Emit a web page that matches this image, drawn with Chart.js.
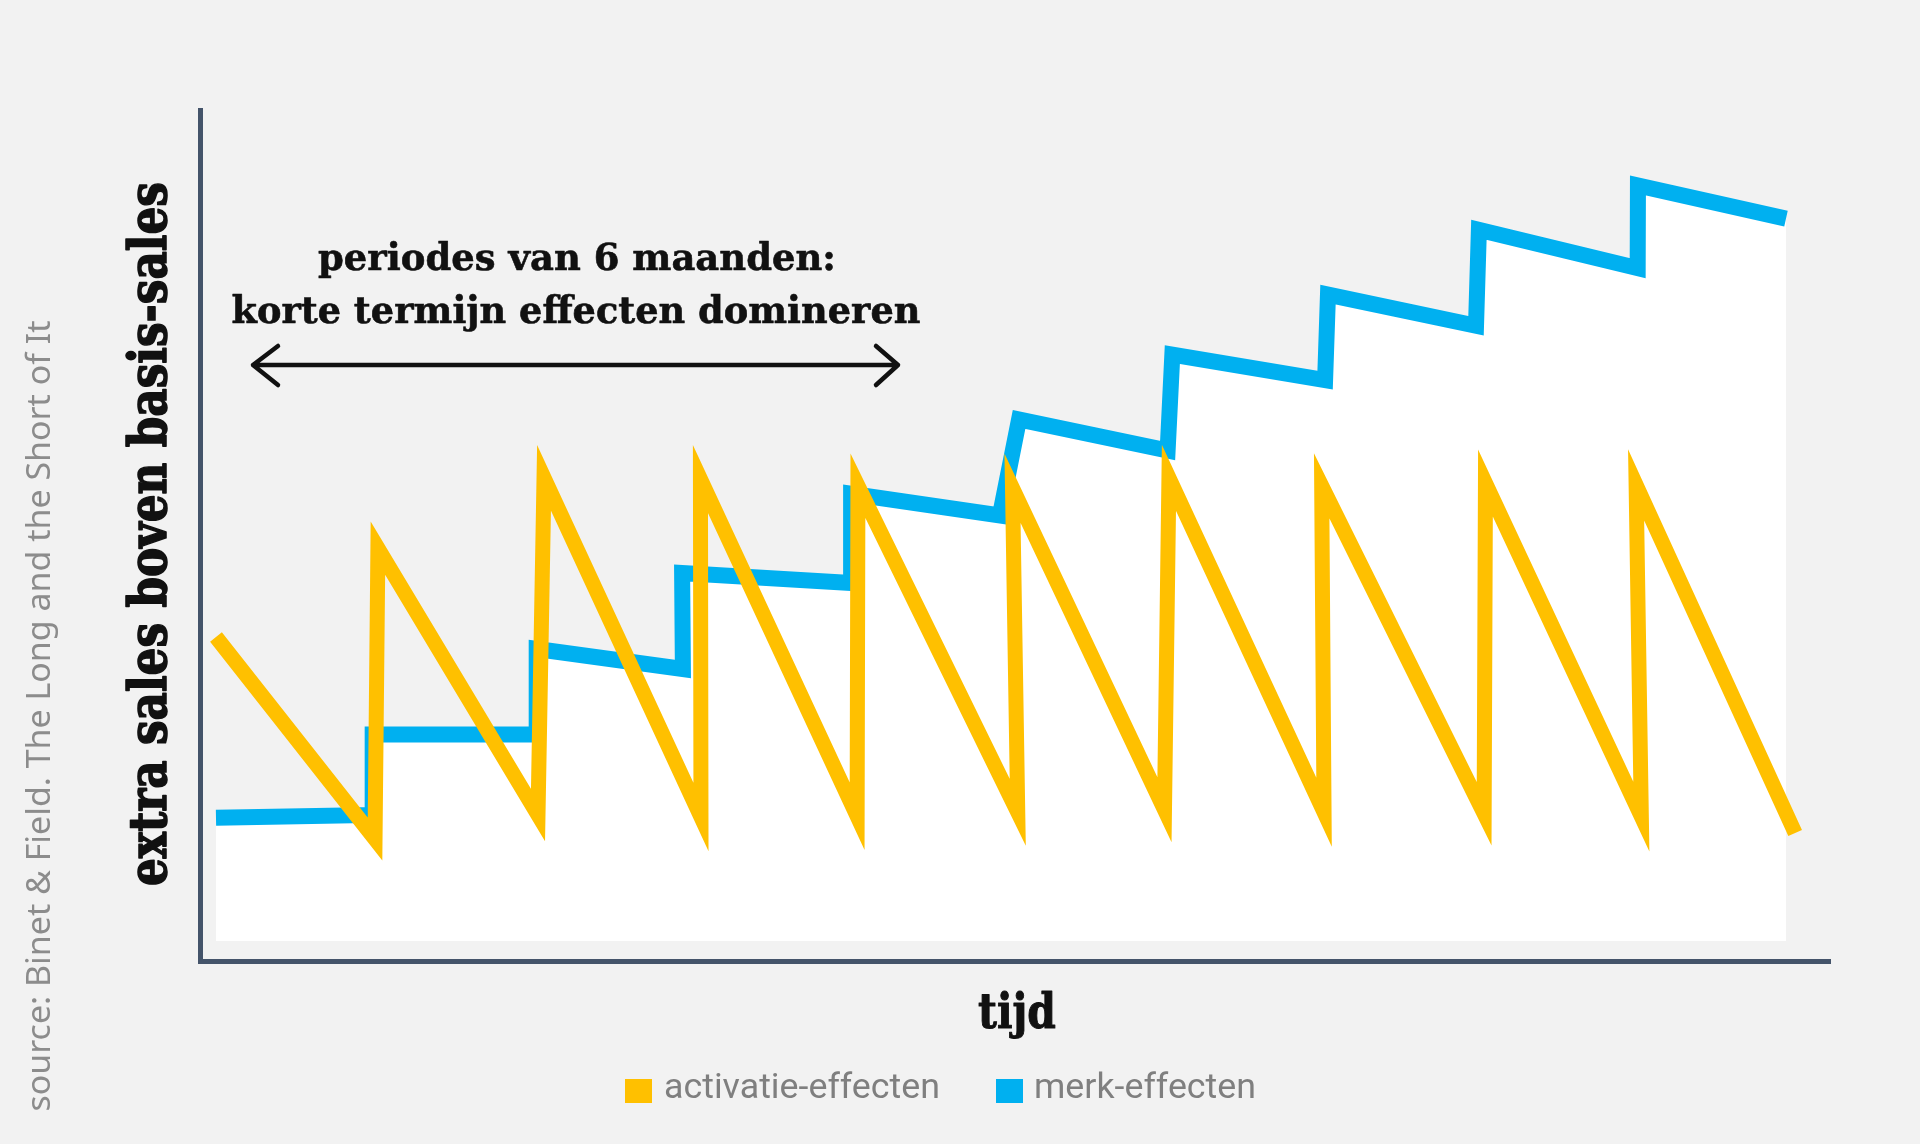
<!DOCTYPE html>
<html>
<head>
<meta charset="utf-8">
<script src="https://cdn.jsdelivr.net/npm/chart.js@4"></script>
<style>
  html, body { margin: 0; padding: 0; background: #f2f2f2; }
  #wrap { width: 1920px; height: 1144px; position: relative; }
</style>
</head>
<body>
<div id="wrap"><canvas id="effectChart"></canvas></div>
<script>
// series labels (legend order)
var seriesLabels = ['activatie-effecten', 'merk-effecten'];

// activatie-effecten: time in months, extra sales (arbitrary units)
var activatieMaand = [0, 6.07, 6.18, 12.29, 12.52, 18.51, 18.49, 24.47, 24.5, 30.6, 30.4, 36.2, 36.37, 42.29, 42.2, 48.4, 48.45, 54.4, 54.2, 60.27];
var activatieWaarde = [38.0, 12.75, 49.1, 15.75, 57.9, 15.5, 57.75, 15.6, 56.9, 16.1, 56.6, 16.4, 57.9, 16.1, 56.9, 15.9, 57.25, 15.55, 57.0, 13.5];

// merk-effecten
var merkMaand = [0, 5.98, 5.98, 12.24, 12.24, 17.82, 17.79, 24.24, 24.24, 29.92, 30.65, 36.32, 36.5, 42.33, 42.44, 48.09, 48.2, 54.26, 54.27, 59.92];
var merkWaarde = [15.4, 15.75, 25.8, 25.8, 36.5, 34.0, 46.0, 44.75, 55.9, 53.2, 65.2, 61.3, 73.3, 70.1, 80.8, 76.9, 88.9, 84.1, 94.45, 90.3];

var geel = '#ffc000';
var blauw = '#00b0f0';

function toPoints(xs, ys) {
    return xs.map(function (x, i) { return { x: x, y: ys[i] }; });
}

// draw text squeezed/stretched to a target width
function fitText(ctx, text, font, width, stroke) {
    ctx.font = font;
    var w = ctx.measureText(text).width;
    ctx.scale(width / w, 1);
    ctx.fillText(text, 0, 0);
    if (stroke) {
        ctx.lineWidth = stroke;
        ctx.strokeStyle = ctx.fillStyle;
        ctx.lineJoin = 'round';
        ctx.strokeText(text, 0, 0);
    }
}

var textPlugin = {
    id: 'textPlugin',
    afterDraw: function (chart) {
        var ctx = chart.ctx;
        ctx.save();
        ctx.textBaseline = 'alphabetic';
        ctx.textAlign = 'center';

        // source, rotated
        ctx.save();
        ctx.fillStyle = '#8c8c8c';
        ctx.translate(50, 716);
        ctx.rotate(-Math.PI / 2);
        fitText(ctx, 'source: Binet & Field. The Long and the Short of It', '33px "Noto Sans"', 791);
        ctx.restore();

        // y axis title
        ctx.save();
        ctx.fillStyle = '#111111';
        ctx.translate(166, 534);
        ctx.rotate(-Math.PI / 2);
        fitText(ctx, 'extra sales boven basis-sales', 'bold 52px "DejaVu Serif"', 704, 1.6);
        ctx.restore();

        // annotation
        ctx.fillStyle = '#111111';
        ctx.save();
        ctx.translate(577, 270);
        fitText(ctx, 'periodes van 6 maanden:', 'bold 38px "DejaVu Serif"', 518, 0.6);
        ctx.restore();
        ctx.save();
        ctx.translate(576, 323);
        fitText(ctx, 'korte termijn effecten domineren', 'bold 38px "DejaVu Serif"', 689, 0.6);
        ctx.restore();

        // double arrow
        ctx.strokeStyle = '#111111';
        ctx.lineWidth = 4.5;
        ctx.lineCap = 'round';
        ctx.lineJoin = 'round';
        ctx.beginPath();
        ctx.moveTo(253, 365);
        ctx.lineTo(898, 365);
        ctx.moveTo(278, 346);
        ctx.lineTo(253, 365);
        ctx.lineTo(278, 385);
        ctx.moveTo(876, 346);
        ctx.lineTo(898, 365);
        ctx.lineTo(876, 385);
        ctx.stroke();

        // x axis title
        ctx.save();
        ctx.translate(1017, 1028);
        fitText(ctx, 'tijd', 'bold 48px "DejaVu Serif"', 78, 1);
        ctx.restore();

        // legend
        var items = [
            { label: seriesLabels[0], color: geel, box: 625, tx: 664, tw: 276 },
            { label: seriesLabels[1], color: blauw, box: 996, tx: 1034, tw: 222 }
        ];
        ctx.textAlign = 'left';
        items.forEach(function (it) {
            ctx.fillStyle = it.color;
            ctx.fillRect(it.box, 1079, 27, 24);
            ctx.save();
            ctx.fillStyle = '#7f7f7f';
            ctx.translate(it.tx, 1098);
            fitText(ctx, it.label, '35px Roboto', it.tw);
            ctx.restore();
        });

        ctx.restore();
    }
};

var ctx = document.getElementById('effectChart');

var effectChart = new Chart(ctx, {
    type: 'line',
    data: {
        datasets: [{
            label: seriesLabels[0],
            data: toPoints(activatieMaand, activatieWaarde),
            borderColor: geel,
            borderWidth: 15,
            borderJoinStyle: 'miter',
            borderCapStyle: 'butt',
            borderDash: [100000, 0],  // forces the normal path, keeps sharp joins
            pointRadius: 0,
            tension: 0,
            fill: false
        }, {
            label: seriesLabels[1],
            data: toPoints(merkMaand, merkWaarde),
            borderColor: blauw,
            backgroundColor: '#ffffff',
            borderWidth: 16,
            borderJoinStyle: 'miter',
            borderCapStyle: 'butt',
            borderDash: [100000, 0],
            pointRadius: 0,
            tension: 0,
            fill: 'origin'
        }]
    },
    options: {
        responsive: true,
        maintainAspectRatio: false,
        devicePixelRatio: 1,
        animation: false,
        layout: {
            padding: { left: 200, right: 90, top: 110, bottom: 183 }
        },
        scales: {
            x: {
                type: 'linear',
                min: -0.61,
                max: 61.6,
                grid: { display: false, drawTicks: false },
                ticks: { display: false },
                border: { display: true, color: '#44546a', width: 5 },
                afterFit: function (scale) { scale.height = 0; }
            },
            y: {
                type: 'linear',
                min: -2.5,
                max: 103.875,
                grid: { display: false, drawTicks: false },
                ticks: { display: false },
                border: { display: true, color: '#44546a', width: 5 },
                afterFit: function (scale) { scale.width = 0; }
            }
        },
        plugins: {
            legend: { display: false },
            tooltip: { enabled: false }
        }
    },
    plugins: [textPlugin]
});
</script>
</body>
</html>
